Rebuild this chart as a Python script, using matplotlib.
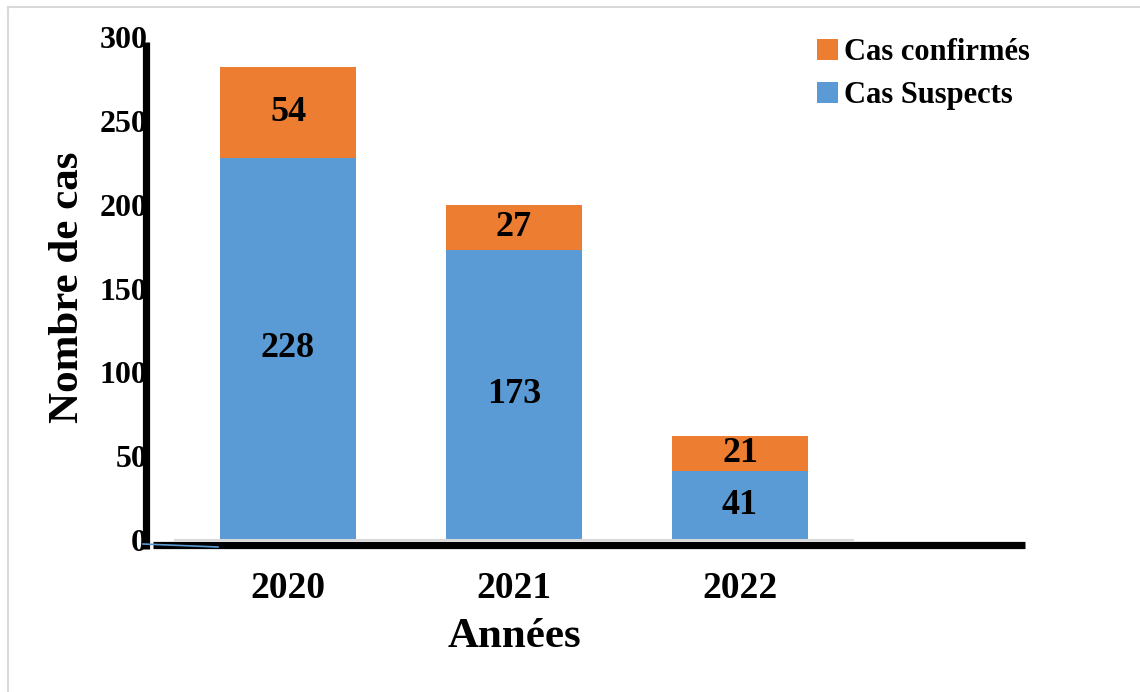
import matplotlib
matplotlib.use("Agg")
import matplotlib.pyplot as plt
from matplotlib.lines import Line2D
from matplotlib.patches import Patch

years = ["2020", "2021", "2022"]
suspects = [228, 173, 41]
confirmes = [54, 27, 21]
yticks = [0, 50, 100, 150, 200, 250, 300]

BLUE = "#5B9BD5"
ORANGE = "#ED7D31"
FONT = "Liberation Serif"

plt.rcParams["font.family"] = [FONT, "DejaVu Serif"]
plt.rcParams["font.weight"] = "bold"

W, H = 1140, 692
fig = plt.figure(figsize=(W / 100, H / 100), dpi=100)
ax = fig.add_axes([175 / W, (H - 540) / H, 678 / W, 503 / H])

x = list(range(len(years)))
ax.bar(x, suspects, width=0.6, color=BLUE, zorder=2)
ax.bar(x, confirmes, width=0.6, bottom=suspects, color=ORANGE, zorder=2)

for i in x:
    ax.text(i, suspects[i] / 2, str(suspects[i]), ha="center", va="center",
            fontsize=26, fontweight="bold", zorder=3)
    ax.text(i, suspects[i] + confirmes[i] / 2, str(confirmes[i]), ha="center",
            va="center", fontsize=26, fontweight="bold", zorder=3)

ax.set_xlim(-0.5, 2.5)
ax.set_ylim(0, 300)
for s in ["top", "right", "left"]:
    ax.spines[s].set_visible(False)
ax.spines["bottom"].set_color("#D9D9D9")
ax.spines["bottom"].set_linewidth(1.5)
ax.set_yticks(yticks)
ax.set_yticklabels([str(v) for v in yticks], fontsize=23, fontweight="bold")
ax.tick_params(axis="y", length=0, pad=20)
ax.set_xticks(x)
ax.set_xticklabels(years, fontsize=27, fontweight="bold")
ax.tick_params(axis="x", length=0, pad=22)

# hand-drawn style thick axes
fig.add_artist(Line2D([145.5 / W, 145.5 / W], [1 - 42 / H, 1 - 549 / H],
                      color="black", lw=5.2, solid_capstyle="butt"))
fig.add_artist(Line2D([153 / W, 1025 / W], [1 - 545 / H, 1 - 545 / H],
                      color="black", lw=5.2, solid_capstyle="butt"))
fig.add_artist(Line2D([143 / W, 218 / W], [1 - 544 / H, 1 - 547 / H],
                      color=BLUE, lw=1.2))

# light border
fig.add_artist(Line2D([8 / W, 8 / W], [0, 1 - 7 / H], color="#D9D9D9", lw=1.5))
fig.add_artist(Line2D([8 / W, 1], [1 - 7 / H, 1 - 7 / H], color="#D9D9D9", lw=1.5))

fig.text(68 / W, 1 - 287 / H, "Nombre de cas", rotation=90, ha="center",
         va="center", fontsize=31, fontweight="bold")
fig.text(514 / W, 1 - 637 / H, "Années", ha="center", va="center",
         fontsize=31, fontweight="bold")

handles = [Patch(facecolor=ORANGE, label="Cas confirmés"),
           Patch(facecolor=BLUE, label="Cas Suspects")]
fig.legend(handles=handles, loc="upper left", bbox_to_anchor=(805 / W, 1 - 26 / H),
           frameon=False, prop={"family": FONT, "weight": "bold", "size": 22},
           handlelength=0.68, handleheight=0.68, handletextpad=0.2,
           labelspacing=0.45, borderaxespad=0)

fig.savefig("out.png", dpi=100, facecolor="white")
